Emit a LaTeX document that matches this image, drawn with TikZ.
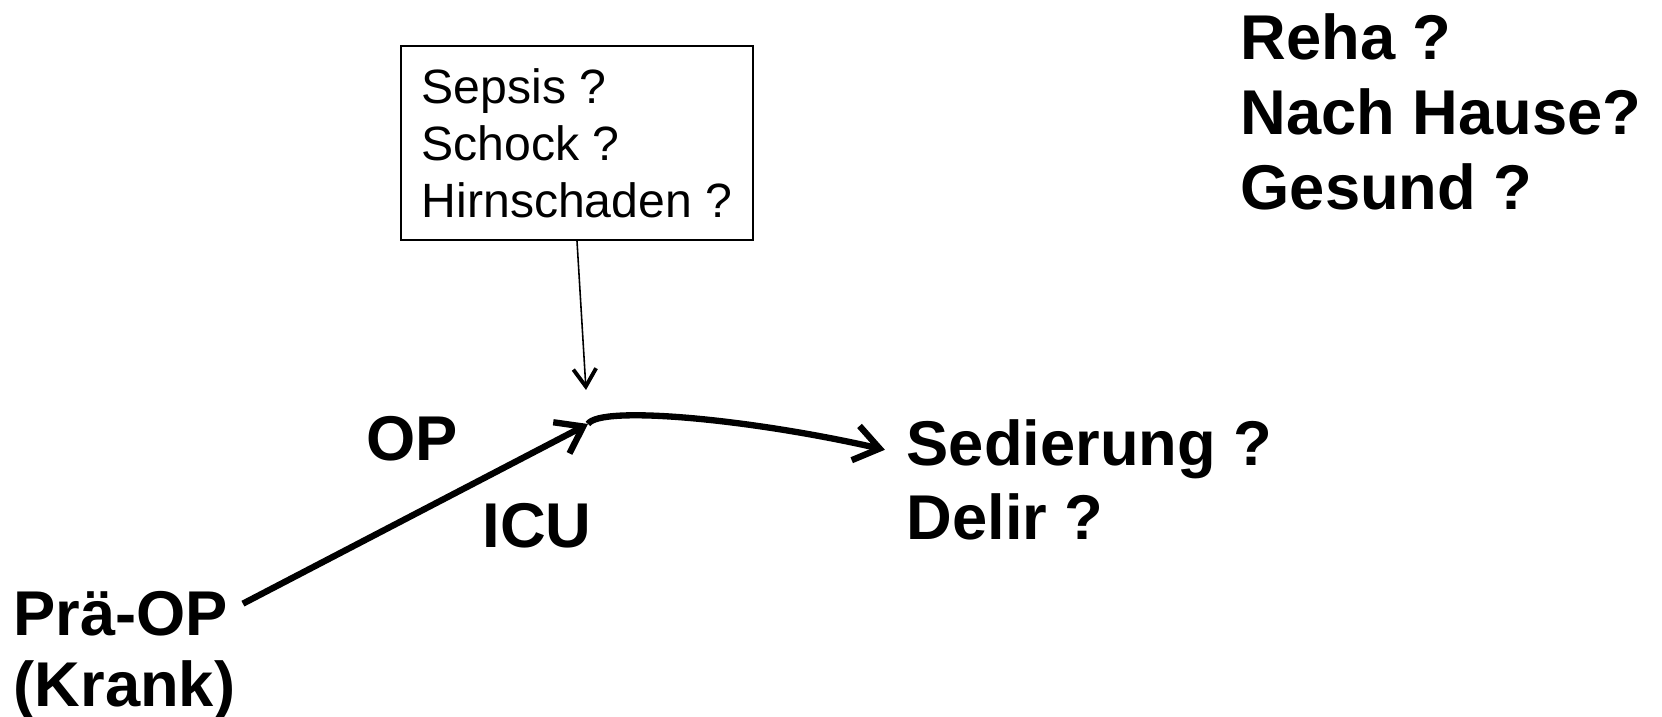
\documentclass[tikz,border=0pt]{standalone}
\usepackage{fontspec}
\setmainfont{Liberation Sans}
\usetikzlibrary{arrows.meta}

\begin{document}
\begin{tikzpicture}[
    lbl/.style={font=\fontsize{18}{21}\selectfont\bfseries, inner sep=0pt, anchor=base west},
    riskbox/.style={draw, line width=0.6pt, align=left, minimum width=3.52cm,
        minimum height=1.94cm, font=\fontsize{13.7}{16.2}\selectfont},
    flow/.style={-{Straight Barb[length=7pt,width=10pt]}, line width=1.8pt},
    hint/.style={-{Straight Barb[length=5pt,width=6.5pt,line width=1.1pt]}, line width=0.45pt}]
    \useasboundingbox (0,0) rectangle (16.62,7.17);
    % outcomes top right
    \node[lbl] (reha) at (12.40,6.57) {Reha ?};
    \node[lbl] (hause) at (12.40,5.82) {Nach Hause?};
    \node[lbl] (gesund) at (12.40,5.07) {Gesund ?};
    % complications
    \node[riskbox] (risk) at (5.77,5.74) {Sepsis ?\\Schock ?\\Hirnschaden ?};
    % path labels
    \node[lbl] (pre) at (0.13,0.81) {Prä-OP};
    \node[lbl] (krank) at (0.13,0.10) {(Krank)};
    \node[lbl] (op) at (3.66,2.56) {OP};
    \node[lbl] (icul) at (4.82,1.69) {ICU};
    \node[lbl] (sed) at (9.06,2.51) {Sedierung ?};
    \node[lbl] (delir) at (9.06,1.77) {Delir ?};
    \coordinate (icu) at (5.88,2.93);
    \coordinate (hit) at (5.86,3.27);
    \draw[flow] ([xshift=4pt,yshift=3pt]pre.east) -- (icu);
    \draw[flow] (icu) .. controls (6.0,3.12) and (7.5,2.98) .. ([xshift=-6pt]sed.west);
    \draw[hint] (risk.south) -- (hit);
\end{tikzpicture}
\end{document}
